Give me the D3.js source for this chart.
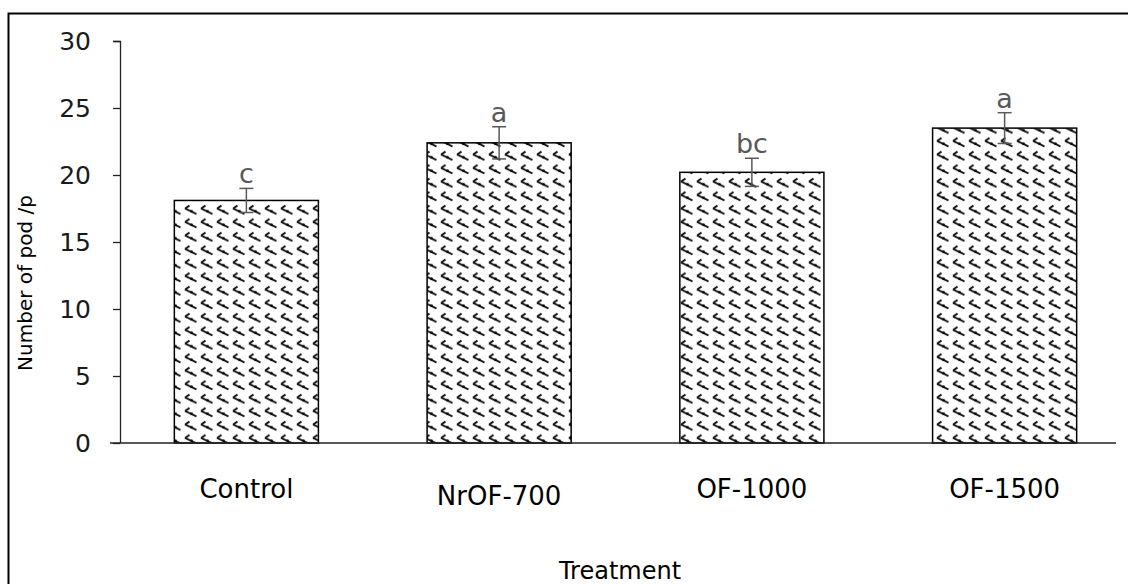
<!DOCTYPE html>
<html>
<head>
<meta charset="utf-8">
<script src="https://cdn.jsdelivr.net/npm/d3@7"></script>
<style>
  body { margin: 0; background: #fff; }
  svg { display: block; font-family: "DejaVu Sans", sans-serif; }
</style>
</head>
<body>
<script>
var treatments = ["Control", "NrOF-700", "OF-1000", "OF-1500"];
var pods = [18.1, 22.4, 20.2, 23.5];
var errs = [0.9, 1.2, 1.05, 1.15];
var letters = ["c", "a", "bc", "a"];
var yTicks = [0, 5, 10, 15, 20, 25, 30];

var W = 1128, H = 584;
var font = "DejaVu Sans, sans-serif";
var margin = {top: 41, right: -3, bottom: 141, left: 120},
    width = W - margin.left - margin.right,
    height = H - margin.top - margin.bottom;

var svg = d3.select("body").append("svg")
    .attr("width", W)
    .attr("height", H);

// outer frame (only top and left show)
svg.append("path")
    .attr("d", "M8.5," + H + " V13.5 H" + W)
    .attr("fill", "none")
    .attr("stroke", "#000")
    .attr("stroke-width", 2);

// hatch pattern
var pat = svg.append("defs").append("pattern")
    .attr("id", "weave")
    .attr("patternUnits", "userSpaceOnUse")
    .attr("width", 16)
    .attr("height", 13.5);
pat.append("rect").attr("width", 16).attr("height", 13.5).attr("fill", "#fff");
pat.append("path")
    .attr("d", "M1,5.5 L5.5,2.5 M1,5.5 L12.5,11")
    .attr("stroke", "#111")
    .attr("stroke-width", 1.9)
    .attr("fill", "none");
pat.append("circle").attr("cx", 7.5).attr("cy", 8.3).attr("r", 1.4).attr("fill", "#000");

var g = svg.append("g")
    .attr("transform", "translate(" + margin.left + "," + margin.top + ")");

var x = d3.scaleBand().domain(treatments).range([0, width]).paddingInner(0.43).paddingOuter(0.215);
var y = d3.scaleLinear().domain([0, 30]).range([height, 0]);

// y axis
var yAxis = g.append("g")
    .call(d3.axisLeft(y).tickValues(yTicks).tickSize(7).tickPadding(22));
yAxis.attr("font-family", font);
yAxis.select(".domain").attr("stroke", "#222").attr("stroke-width", 1.3).attr("d", "M-7,0.5H0.5V" + height);
yAxis.selectAll(".tick line").attr("stroke", "#222").attr("stroke-width", 1.3);
yAxis.selectAll("text").attr("font-size", 25).attr("fill", "#1a1a1a");

// bars
g.selectAll(".bar").data(pods).enter().append("rect")
    .attr("class", "bar")
    .attr("x", function(d, i) { return x(treatments[i]); })
    .attr("y", function(d) { return y(d); })
    .attr("width", x.bandwidth())
    .attr("height", function(d) { return height - y(d); })
    .attr("fill", "url(#weave)")
    .attr("stroke", "#000")
    .attr("stroke-width", 1.5);

// error bars
var eb = g.selectAll(".err").data(pods).enter().append("g")
    .attr("transform", function(d, i) { return "translate(" + (x(treatments[i]) + x.bandwidth() / 2) + ",0)"; });
eb.append("line")
    .attr("y1", function(d, i) { return y(d + errs[i]); })
    .attr("y2", function(d, i) { return y(d - errs[i]); })
    .attr("stroke", "#595959").attr("stroke-width", 1.5);
eb.append("line")
    .attr("x1", -7).attr("x2", 7)
    .attr("y1", function(d, i) { return y(d + errs[i]); })
    .attr("y2", function(d, i) { return y(d + errs[i]); })
    .attr("stroke", "#595959").attr("stroke-width", 1.5);
eb.append("line")
    .attr("x1", -7).attr("x2", 7)
    .attr("y1", function(d, i) { return y(d - errs[i]); })
    .attr("y2", function(d, i) { return y(d - errs[i]); })
    .attr("stroke", "#595959").attr("stroke-width", 1.5);

// significance letters
g.selectAll(".sig").data(letters).enter().append("text")
    .attr("x", function(d, i) { return x(treatments[i]) + x.bandwidth() / 2; })
    .attr("y", function(d, i) { return y(pods[i] + errs[i]) - 5; })
    .attr("text-anchor", "middle")
    .attr("font-size", 27)
    .attr("fill", "#595959")
    .text(function(d) { return d; });

// x axis
var xAxis = g.append("g")
    .attr("transform", "translate(0," + height + ")")
    .call(d3.axisBottom(x).tickSize(0).tickPadding(37));
xAxis.attr("font-family", font);
xAxis.select(".domain").attr("stroke", "#222").attr("stroke-width", 1.5).attr("d", "M-10,0H" + (width - 15));
xAxis.selectAll("text").attr("font-size", 26).attr("fill", "#000")
    .attr("dy", function(d) { return d === "NrOF-700" ? "0.98em" : "0.71em"; });

// axis titles
svg.append("text")
    .attr("transform", "translate(32,283) rotate(-90)")
    .attr("text-anchor", "middle")
    .attr("font-size", 20)
    .attr("fill", "#000")
    .text("Number of pod /p");

svg.append("text")
    .attr("x", 620)
    .attr("y", 579)
    .attr("text-anchor", "middle")
    .attr("font-size", 24)
    .attr("fill", "#000")
    .text("Treatment");
</script>
</body>
</html>
